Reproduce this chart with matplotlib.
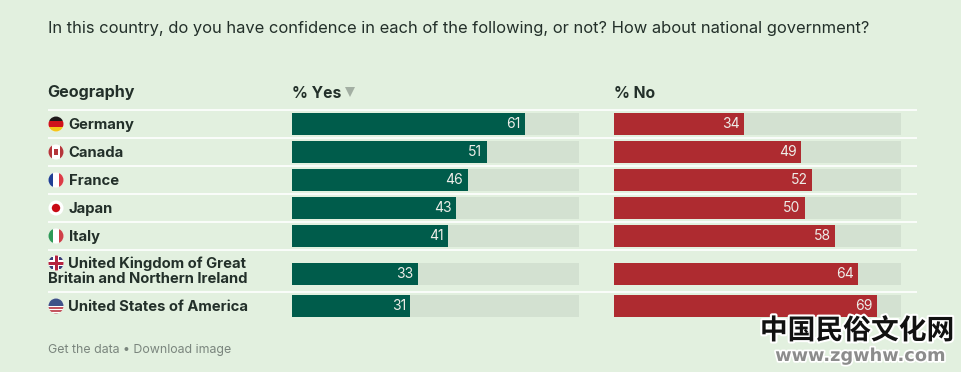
import matplotlib
matplotlib.use('Agg')
import matplotlib.pyplot as plt
import matplotlib.patheffects as pe
from matplotlib.patches import Circle, Rectangle

plt.rcParams['font.family'] = ['Inter', 'DejaVu Sans']

countries = ['Germany', 'Canada', 'France', 'Japan', 'Italy',
             'United Kingdom of Great\nBritain and Northern Ireland', 'United States of America']
yes = [61, 51, 46, 43, 41, 33, 31]
no = [34, 49, 52, 50, 58, 64, 69]
title = 'In this country, do you have confidence in each of the following, or not? How about national government?'

row_y = [124, 152, 180, 208, 236, 274, 306]
sep_y = [110, 138, 166, 194, 222, 250, 292]
axis_max = 75.2

bg = '#E2F0DF'
track = '#D3E1D1'
green = '#005C4B'
red = '#AE2B30'
ink = '#23302A'

W, H = 961, 372
fig = plt.figure(figsize=(W/100, H/100), dpi=100, facecolor=bg)

# overlay in pixel coords for text, separators and flags
ax = fig.add_axes([0, 0, 1, 1])
ax.set_xlim(0, W)
ax.set_ylim(H, 0)
ax.axis('off')

ax.text(47.5, 33, title, fontsize=11.9, color=ink, va='baseline', ha='left')
ax.text(47.5, 97.5, 'Geography', fontsize=11.6, weight='bold', color=ink, va='baseline')
ax.text(291.5, 97.5, '% Yes', fontsize=11.3, weight='bold', color=ink, va='baseline')
ax.text(613.5, 97.5, '% No', fontsize=11.3, weight='bold', color=ink, va='baseline')
ax.plot([350], [92], marker='v', ms=7.5, color='#A3AFA3', mew=0)

for y in sep_y:
    ax.plot([48, 917], [y, y], color='white', lw=1.3, solid_capstyle='butt', alpha=0.9)


def flag(cy, draw, base='white'):
    clip = Circle((56, cy), 7.5, transform=ax.transData)
    ax.add_patch(Circle((56, cy), 7.5, color=base, lw=0))
    for x0, y0, w, h, c in draw:
        r = Rectangle((56+x0, cy+y0), w, h, color=c, lw=0)
        ax.add_patch(r)
        r.set_clip_path(clip)


flag(row_y[0], [(-8, -8, 16, 5.3, '#1E1A1A'), (-8, -2.7, 16, 5.3, '#D0121B'), (-8, 2.6, 16, 5.4, '#F5C518')])
flag(row_y[1], [(-8, -8, 4, 16, '#B5363A'), (4, -8, 4, 16, '#B5363A'), (-2, -3, 4, 6, '#B5363A')])
flag(row_y[2], [(-8, -8, 5.3, 16, '#1F3F94'), (2.7, -8, 5.3, 16, '#DC3C46')])
flag(row_y[3], [(-4, -4, 8, 8, '#FFFFFF')])
ax.add_patch(Circle((56, row_y[3]), 4.2, color='#C90A14', lw=0))
flag(row_y[4], [(-8, -8, 5.3, 16, '#2E9A57'), (2.7, -8, 5.3, 16, '#CF4048')])
uk_y = 263
flag(uk_y, [(-8, -1.5, 16, 3, '#B5233F'), (-1.5, -8, 3, 16, '#B5233F'),
            (-8, -6, 5, 3, '#3A3F78'), (3, -6, 5, 3, '#3A3F78'),
            (-8, 3, 5, 3, '#3A3F78'), (3, 3, 5, 3, '#3A3F78')])
flag(row_y[6], [(-8, -8, 16, 8, '#3F5288'), (-8, 1, 16, 1.5, '#C4555F'),
                (-8, 4, 16, 1.5, '#C4555F'), (-8, 6.5, 16, 1.5, '#C4555F')])

for name, y in zip(countries, row_y):
    if '\n' in name:
        a, b = name.split('\n')
        ax.text(68.5, 268, a, fontsize=10.65, weight='bold', color=ink, va='baseline')
        ax.text(47.5, 283, b, fontsize=10.65, weight='bold', color=ink, va='baseline')
    else:
        ax.text(68.5, y+5, name, fontsize=10.65, weight='bold', color=ink, va='baseline')

ax.text(47.5, 353, 'Get the data \u2022 Download image', fontsize=8.9, color='#7A857D', va='baseline')


def bars(left, values, color):
    a = fig.add_axes([left/W, 0, 287/W, 1])
    a.patch.set_alpha(0)
    a.set_xlim(0, axis_max)
    a.set_ylim(H, 0)
    a.axis('off')
    a.barh(row_y, [axis_max]*len(row_y), height=22, color=track, lw=0)
    a.barh(row_y, values, height=22, color=color, lw=0)
    for v, y in zip(values, row_y):
        a.annotate(str(v), (v, y), xytext=(-3.2, 0), textcoords='offset points',
                   ha='right', va='center', color='#EDEDE8', fontsize=10)
    return a


bars(292, yes, green)
bars(614, no, red)

# watermark sits on top of everything
top = fig.add_axes([0, 0, 1, 1])
top.set_xlim(0, W)
top.set_ylim(H, 0)
top.axis('off')
top.patch.set_alpha(0)
top.text(857, 331, '中国民俗文化网', fontsize=20, weight='bold', color='#111111', ha='center', va='center',
         family=['Noto Sans CJK SC', 'DejaVu Sans'],
         path_effects=[pe.withStroke(linewidth=3, foreground='white')])
top.text(860, 356, 'www.zgwhw.com', fontsize=12.8, weight='bold', color='#8C8C8C', ha='center', va='center',
         family=['DejaVu Sans'],
         path_effects=[pe.withStroke(linewidth=2.5, foreground='white')])

fig.savefig('out.png', dpi=100, facecolor=bg)
